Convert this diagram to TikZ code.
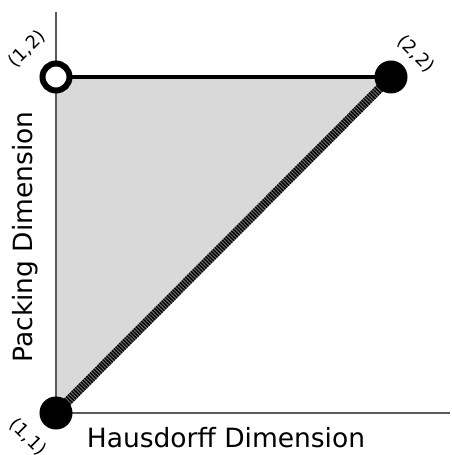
\documentclass[tikz,border=0pt]{standalone}
\usepackage{fontspec}
\setmainfont{DejaVu Sans}
\usepackage{tikz}
\definecolor{areagray}{RGB}{217,217,217}
\definecolor{axisgray}{RGB}{90,90,90}

\begin{document}
\begin{tikzpicture}[x=1pt, y=1pt,
  dot/.style={circle, draw=black, fill=black, line width=1pt, minimum size=32pt, inner sep=0pt},
  opendot/.style={circle, draw=black, fill=white, line width=6pt, minimum size=27pt, inner sep=0pt},
  corner/.style={font=\fontsize{18}{20}\selectfont, inner sep=0pt},
  axislabel/.style={font=\fontsize{26.5}{30}\selectfont, inner sep=0pt}]
  \useasboundingbox (0,0) rectangle (452,455);
  % corner points of the region
  \coordinate (p11) at (56,42);
  \coordinate (p12) at (56,378);
  \coordinate (p22) at (391,378);
  \coordinate (ytop) at (56,443);
  \coordinate (xend) at (450,42);
  % shaded region
  \fill[areagray] (p11) -- (p12) -- (p22) -- cycle;
  \draw[axisgray, line width=1.5pt] (p11) -- (ytop);
  \draw[axisgray, line width=1.5pt] (p11) -- (xend);
  \draw[areagray!50!black, line width=9pt] (p11) -- (p22);
  \draw[black, line width=9pt, dash pattern=on 1.3pt off 1.3pt] (p11) -- (p22);
  \draw[black, line width=4pt] (p12) -- (p22);
  \node[opendot] (n12) at (p12) {};
  \node[dot] (n22) at (p22) {};
  \node[dot] (n11) at (p11) {};
  % labels
  \node[corner, rotate=45] (l12) at (27,406) {(1,2)};
  \node[corner, rotate=-45] (l22) at (416,401) {(2,2)};
  \node[corner, rotate=-45] (l11) at (28,18) {(1,1)};
  \node[axislabel] (xlab) at (226,17) {Hausdorff Dimension};
  \node[axislabel, rotate=90] (ylab) at (25,218) {Packing Dimension};
\end{tikzpicture}
\end{document}
